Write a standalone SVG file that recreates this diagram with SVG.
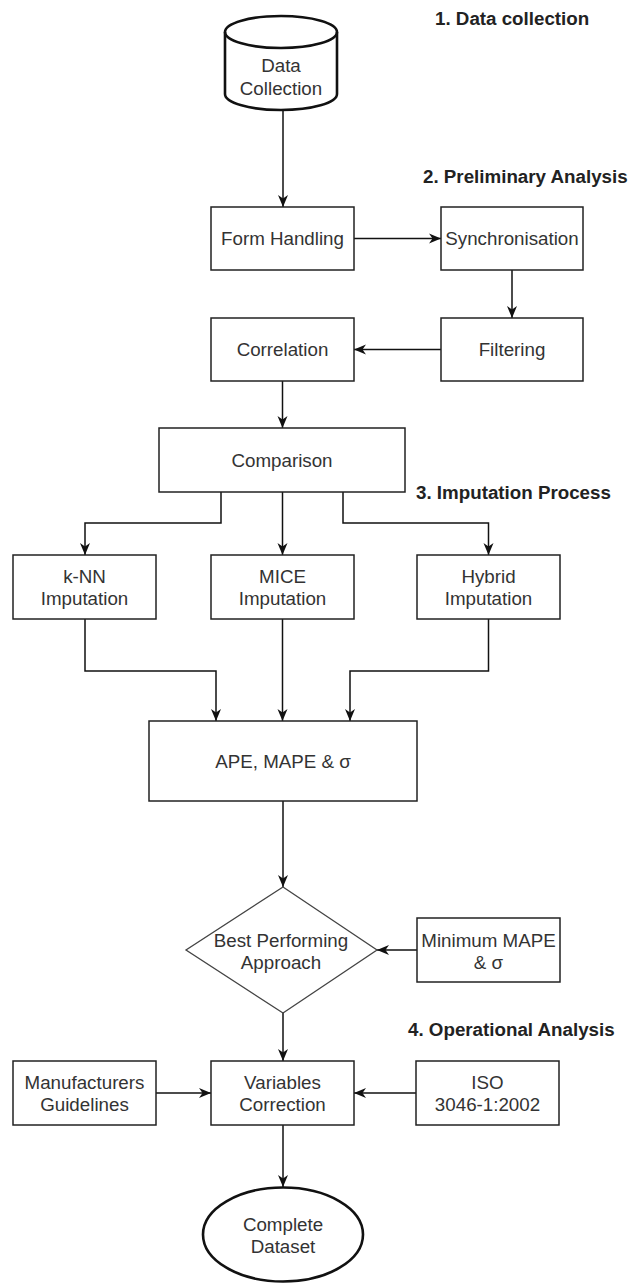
<svg xmlns="http://www.w3.org/2000/svg" width="634" height="1283" viewBox="0 0 634 1283">
<style>
.box{fill:#fff;stroke:#222;stroke-width:1.5}
.thick{fill:#fff;stroke:#111;stroke-width:2.6}
.dia{fill:#fff;stroke:#444;stroke-width:1.3}
.lbl{font-family:"Liberation Sans",Arial,sans-serif;font-size:18.75px;fill:#333;text-anchor:middle}
.hd{font-family:"Liberation Sans",Arial,sans-serif;font-size:18.75px;font-weight:bold;fill:#222}
.edge{fill:none;stroke:#111;stroke-width:1.5;marker-end:url(#arr)}
</style>
<defs>
<marker id="arr" markerUnits="userSpaceOnUse" markerWidth="13" markerHeight="11" refX="12" refY="5.5" orient="auto">
<path d="M0,0.5 L12,5.5 L0,10.5 L3.5,5.5 Z" fill="#111"/>
</marker>
</defs>
<rect width="634" height="1283" fill="#fff"/>

<g id="headings">
<text class="hd" x="435" y="25">1. Data collection</text>
<text class="hd" x="423" y="183">2. Preliminary Analysis</text>
<text class="hd" x="416" y="499">3. Imputation Process</text>
<text class="hd" x="408" y="1036">4. Operational Analysis</text>
</g>

<g id="connectors">
<path class="edge" d="M283,110 V207"/>
<path class="edge" d="M354,238.5 H441"/>
<path class="edge" d="M512,270 V318"/>
<path class="edge" d="M441,349.5 H354"/>
<path class="edge" d="M282.5,381 V428"/>
<path class="edge" d="M221,492 V523 H85 V555"/>
<path class="edge" d="M282.5,492 V555"/>
<path class="edge" d="M343,492 V523 H488.5 V555"/>
<path class="edge" d="M85,619 V671 H216 V721"/>
<path class="edge" d="M282.5,619 V721"/>
<path class="edge" d="M488.5,619 V671 H350 V721"/>
<path class="edge" d="M283,801 V887"/>
<path class="edge" d="M417,950 H377"/>
<path class="edge" d="M283,1013 V1061"/>
<path class="edge" d="M156,1093 H211"/>
<path class="edge" d="M416,1093 H354"/>
<path class="edge" d="M283,1125 V1187"/>
</g>

<g id="data-collection">
<path class="thick" d="M225,32 A56,16 0 0 1 337,32 L337,94 A56,16 0 0 1 225,94 Z"/>
<path fill="none" stroke="#111" stroke-width="2.6" d="M225,32 A56,16 0 0 0 337,32"/>
<text class="lbl" x="281" y="72">Data</text>
<text class="lbl" x="281" y="95">Collection</text>
</g>

<g id="form-handling">
<rect class="box" x="211" y="207" width="143" height="63"/>
<text class="lbl" x="282.5" y="245">Form Handling</text>
</g>

<g id="synchronisation">
<rect class="box" x="441" y="207" width="142" height="63"/>
<text class="lbl" x="512" y="245">Synchronisation</text>
</g>

<g id="filtering">
<rect class="box" x="441" y="318" width="142" height="63"/>
<text class="lbl" x="512" y="356">Filtering</text>
</g>

<g id="correlation">
<rect class="box" x="211" y="318" width="143" height="63"/>
<text class="lbl" x="282.5" y="356">Correlation</text>
</g>

<g id="comparison">
<rect class="box" x="159" y="428" width="246" height="64"/>
<text class="lbl" x="282" y="467">Comparison</text>
</g>

<g id="knn">
<rect class="box" x="13" y="555" width="143" height="64"/>
<text class="lbl" x="84.5" y="582.5">k-NN</text>
<text class="lbl" x="84.5" y="604.5">Imputation</text>
</g>

<g id="mice">
<rect class="box" x="211" y="555" width="143" height="64"/>
<text class="lbl" x="282.5" y="582.5">MICE</text>
<text class="lbl" x="282.5" y="604.5">Imputation</text>
</g>

<g id="hybrid">
<rect class="box" x="417" y="555" width="143" height="64"/>
<text class="lbl" x="488.5" y="582.5">Hybrid</text>
<text class="lbl" x="488.5" y="604.5">Imputation</text>
</g>

<g id="ape">
<rect class="box" x="149" y="721" width="268" height="80"/>
<text class="lbl" x="283" y="767.5">APE, MAPE &amp; σ</text>
</g>

<g id="best-performing">
<polygon class="dia" points="283,887 377,950 283,1013 186,950"/>
<text class="lbl" x="281" y="946.5">Best Performing</text>
<text class="lbl" x="281" y="968.5">Approach</text>
</g>

<g id="minimum-mape">
<rect class="box" x="417" y="918" width="143" height="64"/>
<text class="lbl" x="488.5" y="946.5">Minimum MAPE</text>
<text class="lbl" x="488.5" y="968.5">&amp; σ</text>
</g>

<g id="manufacturers">
<rect class="box" x="13" y="1061" width="143" height="64"/>
<text class="lbl" x="84.5" y="1089">Manufacturers</text>
<text class="lbl" x="84.5" y="1111">Guidelines</text>
</g>

<g id="variables-correction">
<rect class="box" x="211" y="1061" width="143" height="64"/>
<text class="lbl" x="282.5" y="1089">Variables</text>
<text class="lbl" x="282.5" y="1111">Correction</text>
</g>

<g id="iso">
<rect class="box" x="416" y="1061" width="143" height="64"/>
<text class="lbl" x="487.5" y="1089">ISO</text>
<text class="lbl" x="487.5" y="1111">3046-1:2002</text>
</g>

<g id="complete-dataset">
<ellipse class="thick" cx="283" cy="1234.5" rx="80" ry="47"/>
<text class="lbl" x="283" y="1230.5">Complete</text>
<text class="lbl" x="283" y="1252.5">Dataset</text>
</g>
</svg>
